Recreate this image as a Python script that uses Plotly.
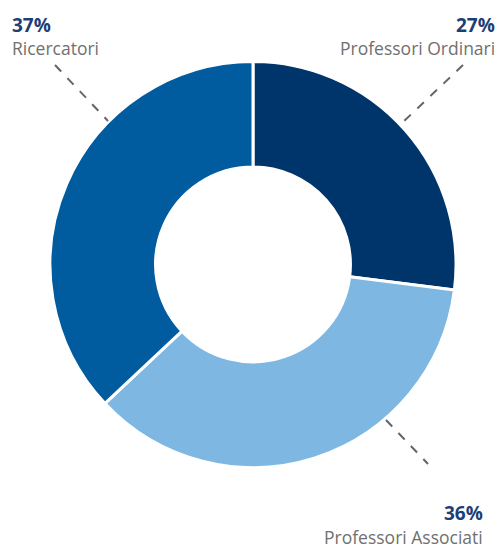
import plotly.graph_objects as go

# data
categories = ["Professori Ordinari", "Professori Associati", "Ricercatori"]
shares = [27, 36, 37]
colors = ["#00356b", "#7db7e2", "#005b9f"]

W, H = 501, 551


def px_x(x):
    return x / W


def px_y(y):
    return 1 - y / H


fig = go.Figure()
fig.add_trace(go.Pie(
    labels=categories,
    values=shares,
    hole=0.48,
    sort=False,
    direction="clockwise",
    rotation=0,
    marker=dict(colors=colors, line=dict(color="white", width=3)),
    textinfo="none",
    hoverinfo="label+percent",
    showlegend=False,
    domain=dict(x=[px_x(50), px_x(456)], y=[px_y(468), px_y(61)]),
))

# label positions (pixels): x, pct y, name y, anchor
label_pos = {
    "Ricercatori": (11, 25, 48, "left"),
    "Professori Ordinari": (496, 25, 48, "right"),
    "Professori Associati": (484, 513, 537, "right"),
}

annotations = []
for name, val in zip(categories, shares):
    x, y1, y2, anchor = label_pos[name]
    annotations.append(dict(
        text=f"<b>{val}%</b>", x=px_x(x), y=px_y(y1), xref="paper", yref="paper",
        xanchor=anchor, yanchor="middle", showarrow=False, borderpad=0,
        font=dict(family="Open Sans", size=19, color="#1d3f78"),
    ))
    annotations.append(dict(
        text=name, x=px_x(x), y=px_y(y2), xref="paper", yref="paper",
        xanchor=anchor, yanchor="middle", showarrow=False, borderpad=0,
        font=dict(family="Open Sans", size=17.5, color="#707070"),
    ))

# leader lines (pixels)
leaders = [((55, 65), (108, 121)), ((463, 65), (401, 124)), ((386, 420), (428, 464))]
shapes = []
for (x0, y0), (x1, y1) in leaders:
    shapes.append(dict(
        type="line", xref="paper", yref="paper",
        x0=px_x(x0), y0=px_y(y0), x1=px_x(x1), y1=px_y(y1),
        line=dict(color="#666666", width=2, dash="dash"),
    ))

fig.update_layout(
    width=W, height=H,
    margin=dict(l=0, r=0, t=0, b=0),
    paper_bgcolor="white",
    plot_bgcolor="white",
    annotations=annotations,
    shapes=shapes,
)

fig.write_html("out.html", config={"displayModeBar": False},
               post_script="document.body.style.margin='0';")
